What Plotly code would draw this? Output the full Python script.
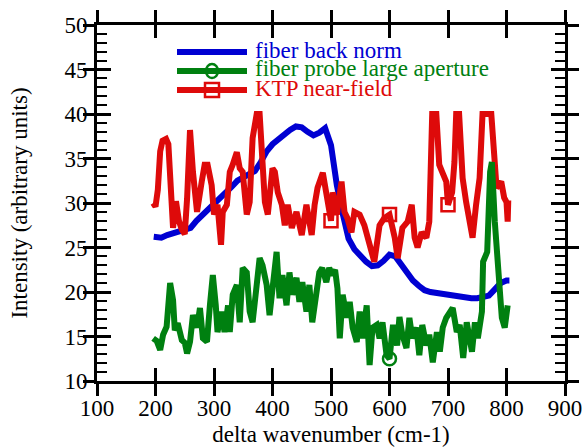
import plotly.graph_objects as go

# ---------------- data ----------------
blue_x = [197, 210, 220, 230, 240, 250, 260, 270, 280, 290, 300, 310, 320, 330, 340, 350,
          360, 370, 380, 390, 400, 410, 420, 430, 440, 450, 460, 470, 480, 490, 500, 510,
          520, 530, 540, 550, 560, 570, 580, 590, 600, 610, 620, 630, 640, 650, 660, 670,
          680, 690, 700, 710, 720, 730, 740, 750, 760, 770, 780, 790, 800, 805]
blue_y = [26.2, 26.1, 26.4, 26.6, 26.8, 27.0, 27.2, 28.0, 28.6, 29.2, 29.8, 30.4, 31.0, 31.8, 32.5, 32.9,
          33.2, 33.6, 34.6, 35.8, 36.6, 37.2, 37.8, 38.2, 38.6, 38.5, 38.0, 37.6, 37.9, 38.4, 36.5, 32.0,
          28.8, 26.0, 24.8, 24.0, 23.4, 22.9, 23.0, 23.5, 24.2, 24.0, 23.0, 22.0, 21.3, 20.7, 20.2, 20.0,
          19.9, 19.8, 19.7, 19.5, 19.4, 19.3, 19.3, 19.3, 19.4, 19.6, 20.3, 21.0, 21.3, 21.3]

green_x = [196, 202, 208, 213, 219, 225, 230, 233, 238, 245, 250, 254, 259, 264, 271, 276, 281, 288,
           293, 298, 303, 306, 313, 318, 324, 327, 332, 339, 344, 349, 356, 361, 366, 373, 378, 383,
           390, 395, 400, 407, 412, 417, 424, 429, 434, 441, 446, 451, 458, 463, 468, 475, 480, 485,
           492, 497, 502, 507, 511, 515, 520, 527, 532, 537, 544, 549, 554, 561, 566, 571, 578, 583,
           588, 595, 600, 606, 613, 617, 622, 629, 634, 639, 646, 651, 656, 663, 668, 674, 681, 686,
           691, 697, 703, 708, 715, 720, 726, 732, 741, 746, 751, 758, 760, 767, 772, 775, 780, 785,
           792, 797, 802]
green_y = [14.8, 14.5, 13.5, 15.2, 16.1, 21.0, 19.1, 15.7, 16.5, 14.6, 14.3, 13.1, 14.4, 17.4, 16.0, 18.2, 14.8, 14.4,
           18.5, 21.9, 18.5, 15.5, 17.8, 15.5, 18.5, 15.5, 19.7, 20.8, 16.6, 22.7, 22.2, 17.8, 16.6, 20.8, 23.8, 23.0,
           20.8, 17.4, 20.8, 24.5, 19.3, 21.9, 18.5, 22.2, 19.7, 21.6, 18.9, 21.1, 17.8, 20.8, 16.6, 20.4, 22.2, 22.7,
           21.1, 22.7, 21.9, 22.5, 20.4, 14.8, 19.7, 17.1, 18.9, 16.0, 14.4, 17.8, 14.8, 18.5, 11.8, 16.0, 16.3, 14.8,
           16.6, 12.9, 12.5, 16.3, 14.0, 17.2, 15.2, 13.7, 17.1, 14.8, 16.0, 12.9, 16.3, 14.0, 15.2, 12.1, 15.5, 13.3,
           16.0, 17.1, 17.8, 18.2, 15.5, 16.3, 12.6, 16.6, 13.3, 16.6, 14.8, 17.8, 23.4, 24.5, 33.5, 34.6, 27.9, 22.7,
           17.1, 16.0, 18.5]

red_x = [196, 200, 204, 208, 212, 218, 222, 226, 230, 235, 240, 245, 250, 254, 259, 264, 271, 279, 284, 289,
         296, 300, 306, 312, 315, 322, 327, 332, 339, 344, 349, 356, 361, 366, 373, 378, 382, 387, 392, 400,
         404, 409, 416, 421, 426, 433, 441, 450, 458, 467, 472, 477, 486, 492, 500, 503, 510, 518, 523, 528,
         535, 540, 549, 557, 566, 574, 583, 591, 600, 609, 614, 622, 631, 638, 643, 648, 655, 663, 668, 673,
         680, 685, 690, 697, 700, 707, 711, 714, 719, 725, 731, 737, 742, 748, 754, 759, 767, 774, 779, 783,
         791, 796, 800, 802, 803]
red_y = [30.0, 29.6, 31.5, 35.8, 37.0, 37.2, 36.6, 31.0, 27.2, 30.2, 28.0, 27.0, 26.5, 30.5, 38.2, 33.5, 29.0, 32.4, 34.3, 34.3,
         32.0, 28.7, 29.8, 25.3, 29.0, 29.8, 33.5, 34.3, 35.7, 33.9, 33.5, 28.7, 30.1, 37.3, 40.0, 40.0, 36.5, 30.1, 28.7, 33.9,
         33.5, 31.2, 29.8, 27.5, 29.8, 27.2, 29.0, 26.4, 29.8, 26.4, 29.8, 31.7, 33.4, 30.9, 28.0, 31.2, 28.7, 32.4, 29.0, 28.3,
         26.7, 29.0, 28.7, 27.5, 25.6, 23.4, 27.5, 28.3, 28.7, 26.1, 23.8, 27.2, 27.9, 29.8, 26.1, 25.0, 26.7, 26.1, 27.9, 40.0,
         40.0, 34.3, 33.5, 32.4, 29.8, 31.2, 34.6, 40.0, 40.0, 32.8, 30.1, 27.9, 26.1, 29.8, 32.8, 40.0, 40.0, 40.0, 35.4, 31.7,
         32.4, 30.6, 30.1, 27.9, 30.3]

red_marker_x = [500, 600, 700]
green_marker_x = [600]

series_names = ["fiber back norm", "fiber probe large aperture", "KTP near-field"]

BLUE = "rgb(0,0,210)"
GREEN = "rgb(0,128,16)"
RED = "rgb(222,10,10)"
FONT = "Liberation Serif, Times New Roman, serif"

fig = go.Figure()
fig.add_trace(go.Scatter(x=blue_x, y=blue_y, mode="lines", line=dict(color=BLUE, width=6),
                         name=series_names[0], showlegend=False))
fig.add_trace(go.Scatter(x=red_x, y=red_y, mode="lines", line=dict(color=RED, width=6),
                         name=series_names[2], showlegend=False))
rmx = [x for x in red_x if x in red_marker_x]
rmy = [y for x, y in zip(red_x, red_y) if x in red_marker_x]
fig.add_trace(go.Scatter(x=rmx, y=rmy, mode="markers", showlegend=False,
                         marker=dict(symbol="square-open", size=13, color=RED, line=dict(width=2.5, color=RED))))
fig.add_trace(go.Scatter(x=green_x, y=green_y, mode="lines", line=dict(color=GREEN, width=6),
                         name=series_names[1], showlegend=False))
gmx = [x for x in green_x if x in green_marker_x]
gmy = [y for x, y in zip(green_x, green_y) if x in green_marker_x]
fig.add_trace(go.Scatter(x=gmx, y=gmy, mode="markers", showlegend=False,
                         marker=dict(symbol="circle-open", size=13, color=GREEN, line=dict(width=2.5, color=GREEN))))
# invisible helper trace so the overlay axes (inner halves of the crossing ticks) are drawn
fig.add_trace(go.Scatter(x=gmx, y=gmy, xaxis="x2", yaxis="y2", mode="markers", showlegend=False,
                         hoverinfo="skip", marker=dict(opacity=0, size=1)))

# ---------------- manual legend ----------------
L, T, B, R = 97, 25, 381, 565
def px(xp):
    return (xp - L) / (R - L)
def py(yp):
    return (B - yp) / (B - T)

shapes = []
annotations = []
rows = [(52, BLUE, None), (71, GREEN, "circle"), (90, RED, "square")]
for (yp, col, mk), name in zip(rows, series_names):
    shapes.append(dict(type="line", xref="paper", yref="paper", x0=px(177), x1=px(247),
                       y0=py(yp), y1=py(yp), line=dict(color=col, width=6)))
    if mk == "circle":
        shapes.append(dict(type="circle", xref="paper", yref="paper", x0=px(206), x1=px(218),
                           y0=py(yp - 7), y1=py(yp + 7), line=dict(color=col, width=2.5),
                           fillcolor="rgba(0,0,0,0)"))
    if mk == "square":
        shapes.append(dict(type="rect", xref="paper", yref="paper", x0=px(205), x1=px(219),
                           y0=py(yp - 7), y1=py(yp + 7), line=dict(color=col, width=2.5),
                           fillcolor="rgba(0,0,0,0)"))
    annotations.append(dict(xref="paper", yref="paper", x=px(253), y=py(yp - 2), xanchor="left",
                            yanchor="middle", showarrow=False, text=name,
                            font=dict(family=FONT, size=23, color=col)))

axis_common = dict(showgrid=False, zeroline=False, tickcolor="black", tickwidth=2.5,
                   linecolor="black", linewidth=3, showline=True, automargin=False)

fig.update_layout(
    width=584, height=447,
    margin=dict(l=L, r=584 - R, t=T, b=447 - B, autoexpand=False),
    paper_bgcolor="white", plot_bgcolor="white",
    font=dict(family=FONT, size=23, color="black"),
    showlegend=False,
    shapes=shapes, annotations=annotations,
    xaxis=dict(range=[100, 900], tickmode="linear", tick0=100, dtick=100, ticks="outside", ticklen=12,
               mirror="ticks", tickfont=dict(size=23), ticklabelstandoff=-8,
               title=dict(text="delta wavenumber (cm-1)", font=dict(size=23), standoff=12),
               **axis_common),
    yaxis=dict(range=[10, 50], tickmode="linear", tick0=10, dtick=5, ticks="outside", ticklen=11,
               mirror="ticks", tickfont=dict(size=23), ticklabelstandoff=-9,
               title=dict(text="Intensity (arbitrary units)", font=dict(size=23), standoff=31),
               **axis_common),
    xaxis2=dict(range=[100, 900], tickmode="linear", tick0=100, dtick=100, ticks="inside", ticklen=13,
                mirror="ticks", overlaying="x", anchor="y2", side="bottom", showticklabels=False,
                **axis_common),
    yaxis2=dict(range=[10, 50], tickmode="linear", tick0=10, dtick=5, ticks="inside", ticklen=14,
                mirror="ticks", overlaying="y", anchor="x2", side="left", showticklabels=False,
                minor=dict(ticks="inside", ticklen=10, tickwidth=2, dtick=1, tick0=10, tickcolor="black"),
                **axis_common),
)

fig.write_html("out.html")
